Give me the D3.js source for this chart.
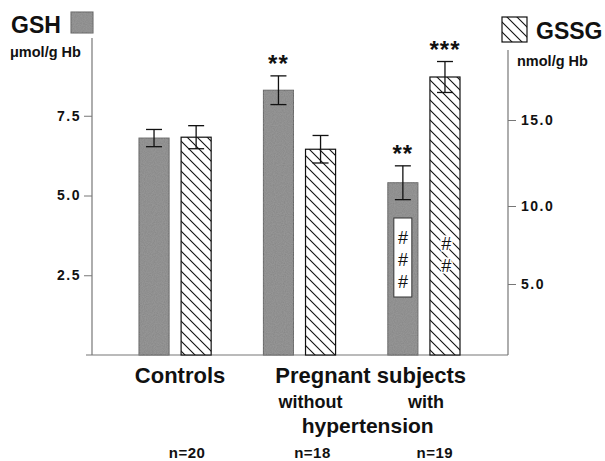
<!DOCTYPE html>
<html>
<head>
<meta charset="utf-8">
<script src="https://cdn.jsdelivr.net/npm/d3@7"></script>
<style>
  body { margin: 0; background: #fff; }
  text { font-family: "Liberation Sans", Arial, Helvetica, sans-serif; font-weight: bold; fill: #111; }
</style>
</head>
<body>
<script>
var svg_width  = 605;
var svg_height = 461;

// data
var groups   = ["Controls", "Without", "With"];
var gsh      = [6.8, 8.3, 5.4];      // umol/g Hb
var gshErr   = [0.27, 0.45, 0.53];
var gssg     = [14.0, 13.3, 17.5];   // nmol/g Hb
var gssgErr  = [0.67, 0.8, 0.9];
var gshStars  = ["", "**", "**"];
var gssgStars = ["", "", "***"];
var leftTicks  = [2.5, 5.0, 7.5];
var rightTicks = [5.0, 10.0, 15.0];
var nLabels = ["n=20", "n=18", "n=19"];

var svg = d3.select('body').append('svg')
            .attr('width', svg_width)
            .attr('height', svg_height);

var defs = svg.append("defs");
var pat = defs.append("pattern")
    .attr("id", "hatch")
    .attr("patternUnits", "userSpaceOnUse")
    .attr("width", 10).attr("height", 10);
pat.append("rect").attr("width", 10).attr("height", 10).attr("fill", "#fff");
pat.append("path")
    .attr("d", "M-2,-2 L12,12 M-2,8 L2,12 M8,-2 L12,2")
    .attr("stroke", "#111").attr("stroke-width", 1.1);

// speckled grey like the print
var filt = defs.append("filter").attr("id", "grain");
filt.append("feTurbulence").attr("type", "fractalNoise")
    .attr("baseFrequency", 0.9).attr("numOctaves", 1).attr("result", "noise");
filt.append("feColorMatrix").attr("in", "noise").attr("type", "matrix")
    .attr("values", "0 0 0 0 0.5  0 0 0 0 0.5  0 0 0 0 0.5  0 0 0 0.35 0")
    .attr("result", "n2");
filt.append("feComposite").attr("in", "n2").attr("in2", "SourceGraphic").attr("operator", "in").attr("result", "n3");
var fm = filt.append("feMerge");
fm.append("feMergeNode").attr("in", "SourceGraphic");
fm.append("feMergeNode").attr("in", "n3");

var x0 = d3.scaleBand().domain(groups).range([139, 460]).paddingInner(0.42).paddingOuter(0);
var x1 = d3.scaleBand().domain(["GSH", "GSSG"]).range([0, x0.bandwidth()]).paddingInner(0.286);

var yL = d3.scaleLinear().domain([0, 10]).range([355, 36]);
// right axis in the print is not quite even, so follow its ticks
var yR = d3.scaleLinear().domain([0, 5, 10, 15, 20]).range([355, 284, 206, 120, 34]);

var axisCol = "#777";

// axes
svg.append("line").attr("x1", 86).attr("x2", 508).attr("y1", 355).attr("y2", 355)
   .attr("stroke", axisCol).attr("stroke-width", 1.2);
svg.append("line").attr("x1", 92).attr("x2", 92).attr("y1", 38).attr("y2", 355)
   .attr("stroke", axisCol).attr("stroke-width", 1.2);
svg.append("line").attr("x1", 508).attr("x2", 508).attr("y1", 50).attr("y2", 355)
   .attr("stroke", axisCol).attr("stroke-width", 1.2);

var gl = svg.append("g").attr("transform", "translate(92,0)")
    .call(d3.axisLeft(yL).tickValues(leftTicks).tickFormat(d3.format(".1f")).tickSize(8).tickPadding(3));
var gr = svg.append("g").attr("transform", "translate(508,0)")
    .call(d3.axisRight(yR).tickValues(rightTicks).tickFormat(d3.format(".1f")).tickSize(8).tickPadding(5));
[gl, gr].forEach(function(g){
    g.select(".domain").remove();
    g.selectAll(".tick line").attr("stroke", axisCol);
    g.selectAll(".tick text").attr("fill", "#111")
     .style("font-size", "14px").style("font-weight", "bold")
     .style("font-family", "'Liberation Sans', Arial, sans-serif")
     .style("letter-spacing", "1.5px");
});

// bars
var bars = svg.append("g");
groups.forEach(function(g, i){
    var xa = x0(g) + x1("GSH");
    var xb = x0(g) + x1("GSSG");
    var w = x1.bandwidth();

    bars.append("rect")
        .attr("x", xa).attr("y", yL(gsh[i]))
        .attr("width", w).attr("height", yL(0) - yL(gsh[i]))
        .attr("fill", "#858585").attr("stroke", "#555").attr("stroke-width", 1)
        .attr("filter", "url(#grain)");
    bars.append("rect")
        .attr("x", xb).attr("y", yR(gssg[i]))
        .attr("width", w).attr("height", yR(0) - yR(gssg[i]))
        .attr("fill", "url(#hatch)").attr("stroke", "#111").attr("stroke-width", 1.2);

    // error bars
    [[xa, yL, gsh[i], gshErr[i]], [xb, yR, gssg[i], gssgErr[i]]].forEach(function(e){
        var cx = e[0] + w / 2, sc = e[1];
        var t = sc(e[2] + e[3]), b = sc(e[2] - e[3]);
        bars.append("line").attr("x1", cx).attr("x2", cx).attr("y1", t).attr("y2", b)
            .attr("stroke", "#111").attr("stroke-width", 1.3);
        [t, b].forEach(function(yy){
            bars.append("line").attr("x1", cx - 8).attr("x2", cx + 8).attr("y1", yy).attr("y2", yy)
                .attr("stroke", "#111").attr("stroke-width", 1.3);
        });
    });

    if (gshStars[i]) {
        svg.append("text").attr("x", xa + w / 2).attr("y", yL(gsh[i] + gshErr[i]) - 4)
           .attr("text-anchor", "middle").style("font-size", "24px").style("letter-spacing", "1px")
           .text(gshStars[i]);
    }
    if (gssgStars[i]) {
        svg.append("text").attr("x", xb + w / 2).attr("y", yR(gssg[i] + gssgErr[i]) - 4)
           .attr("text-anchor", "middle").style("font-size", "24px").style("letter-spacing", "1px")
           .text(gssgStars[i]);
    }
});

// ### box on hypertensive GSH bar
var xh = x0("With") + x1("GSH");
svg.append("rect").attr("x", xh + 6).attr("y", 218).attr("width", 18).attr("height", 79)
   .attr("fill", "#fff").attr("stroke", "#333").attr("stroke-width", 1);
[244, 266, 288].forEach(function(yy){
    svg.append("text").attr("x", xh + 15).attr("y", yy).attr("text-anchor", "middle")
       .style("font-size", "18px").style("font-weight", "normal").style("font-style", "italic")
       .text("#");
});
var xg = x0("With") + x1("GSSG");
[250, 272].forEach(function(yy){
    svg.append("text").attr("x", xg + 16).attr("y", yy).attr("text-anchor", "middle")
       .style("font-size", "18px").style("font-weight", "normal").style("font-style", "italic")
       .attr("stroke", "#fff").attr("stroke-width", 3).attr("paint-order", "stroke")
       .text("#");
});

// legend / units
svg.append("text").attr("x", 11).attr("y", 33).style("font-size", "23px").text("GSH");
svg.append("rect").attr("x", 71).attr("y", 12).attr("width", 22).attr("height", 21)
   .attr("fill", "#858585").attr("stroke", "#555").attr("filter", "url(#grain)");
svg.append("text").attr("x", 10).attr("y", 57).style("font-size", "14.5px").text("\u03bcmol/g Hb");

svg.append("rect").attr("x", 502).attr("y", 17).attr("width", 25).attr("height", 25)
   .attr("fill", "url(#hatch)").attr("stroke", "#111").attr("stroke-width", 1.2);
svg.append("text").attr("x", 536).attr("y", 39).style("font-size", "23px").text("GSSG");
svg.append("text").attr("x", 517).attr("y", 66).style("font-size", "14.5px").text("nmol/g Hb");

// category labels
var cW = x0("Controls") + x0.bandwidth() / 2;
var cA = x0("Without") + x0.bandwidth() / 2;
var cB = x0("With") + x0.bandwidth() / 2;
svg.append("text").attr("x", cW + 5).attr("y", 383).attr("text-anchor", "middle")
   .style("font-size", "22px").text("Controls");
svg.append("text").attr("x", (cA + cB) / 2 + 9).attr("y", 383).attr("text-anchor", "middle")
   .style("font-size", "22px").text("Pregnant subjects");
svg.append("text").attr("x", cA + 11).attr("y", 408).attr("text-anchor", "middle")
   .style("font-size", "18px").text("without");
svg.append("text").attr("x", cB + 2).attr("y", 408).attr("text-anchor", "middle")
   .style("font-size", "18px").text("with");
svg.append("text").attr("x", (cA + cB) / 2 + 6).attr("y", 433).attr("text-anchor", "middle")
   .style("font-size", "21px").text("hypertension");

nLabels.forEach(function(t, i){
    svg.append("text").attr("x", x0(groups[i]) + x0.bandwidth() / 2 + [12, 13, 11][i]).attr("y", 458)
       .attr("text-anchor", "middle").style("font-size", "15px").style("letter-spacing", "0.5px")
       .text(t);
});
</script>
</body>
</html>
